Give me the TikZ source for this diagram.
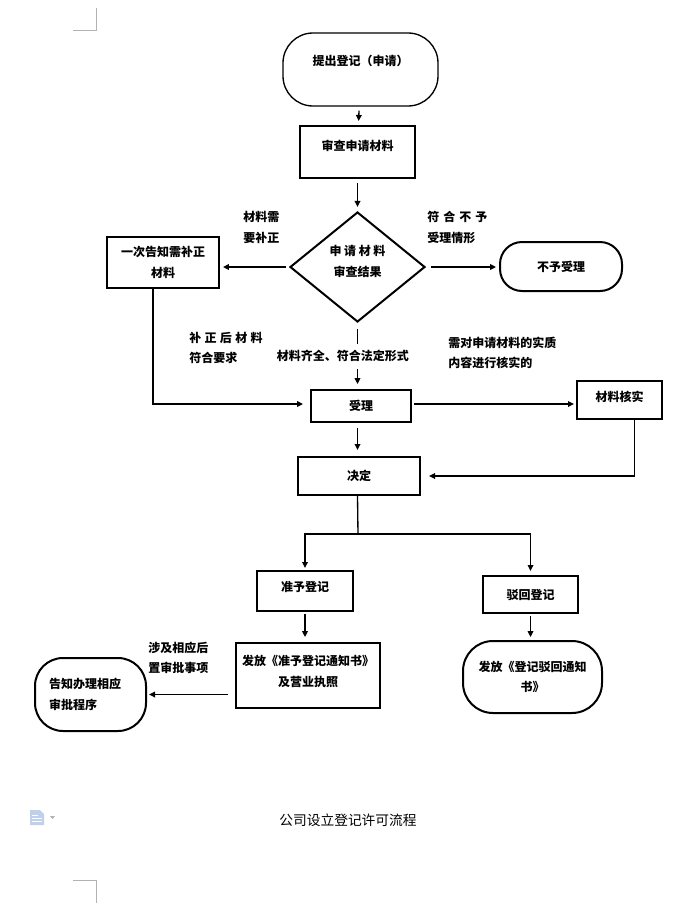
\documentclass[tikz,border=0pt]{standalone}
\usepackage{fontspec}
\setmainfont{Noto Sans CJK SC}
\usetikzlibrary{arrows.meta,shapes.geometric}
\newdimen\px \px=0.75pt
\definecolor{docblue}{RGB}{190,208,235}
\begin{document}
\begin{tikzpicture}[x=0.75pt,y=-0.75pt,
 every node/.style={font=\fontsize{9}{15.5}\selectfont\bfseries, align=center},
 box/.style={draw, line width=1.5pt, inner sep=0pt},
 term/.style={draw, line width=1.5pt, inner sep=0pt},
 arr/.style={line width=1pt, -{Triangle[length=4.5pt,width=4.2pt]}},
 ln/.style={line width=1pt},
 lbl/.style={align=left, inner sep=0pt},
 corner/.style={draw=gray!60, line width=0.75pt}]
\useasboundingbox (0,0) rectangle (683,921);

% page corner marks
\draw[corner] (73,30) -- (96,30) -- (96,8);
\draw[corner] (73,880) -- (96,880) -- (96,903);

% document icon
\fill[docblue] (30,810) -- (40,810) -- (44,814) -- (44,825) -- (30,825) -- cycle;
\draw[white, line width=0.6pt] (32,815) -- (38,815) (32,818) -- (42,818) (32,821) -- (42,821);
\fill[gray!60] (50,816) -- (55,816) -- (52.5,819) -- cycle;

% nodes
\node[term, line width=1pt, rounded corners=30\px, minimum width=155\px, minimum height=73\px, text depth=18\px] (start) at (360.5,69.5) {提出登记（申请）};
\node[box, minimum width=115\px, minimum height=52\px, text depth=14\px] (review) at (357.5,152) {审查申请材料};
\node[draw, diamond, line width=1.5pt, minimum width=135\px, minimum height=110\px, inner sep=0pt, text depth=12\px] (dec) at (357.5,267) {申\hspace{2pt}请\hspace{2pt}材\hspace{2pt}料\\审查结果};
\node[box, minimum width=112\px, minimum height=51\px] (notify) at (163,262.5) {一次告知需补正\\材料};
\node[term, rounded corners=22\px, minimum width=122\px, minimum height=49\px] (reject0) at (561,266.5) {不予受理};
\node[box, minimum width=100\px, minimum height=32\px] (accept) at (361,406) {受理};
\node[box, minimum width=85\px, minimum height=38\px, text depth=8\px] (verify) at (619.5,400) {材料核实};
\node[box, minimum width=122\px, minimum height=38\px] (decide) at (359,476) {决定};
\node[box, minimum width=96\px, minimum height=40\px, text depth=10\px] (grant) at (305,591) {准予登记};
\node[box, minimum width=95\px, minimum height=37\px] (deny) at (530.5,594.5) {驳回登记};
\node[box, minimum width=144\px, minimum height=65\px, text depth=10\px] (issue) at (308,675.5) {发放《准予登记通知书》\\及营业执照};
\node[term, rounded corners=30\px, minimum width=139\px, minimum height=72\px] (issueNo) at (532.5,677) {发放《登记驳回通知\\书》};
\node[term, rounded corners=28\px, minimum width=111\px, minimum height=73\px, align=left] (inform) at (90.5,694.5) {\hspace*{-8pt}告知办理相应\\\hspace*{-8pt}审批程序};

% edge labels
\node[lbl, anchor=west] (l1) at (243,227.5) {材料需\\要补正};
\node[lbl, anchor=west] (l2) at (427,227.5) {符\hspace{3pt}合\hspace{3pt}不\hspace{3pt}予\\受理情形};
\node[lbl, anchor=west] (l3) at (189,348) {补\hspace{2.5pt}正\hspace{2.5pt}后\hspace{2.5pt}材\hspace{2.5pt}料\\符合要求};
\node[lbl, anchor=west] (l4) at (448,353) {需对申请材料的实质\\内容进行核实的};
\node[lbl, anchor=west] (l5) at (148,658) {涉及相应后\\置审批事项};

% connectors
\draw[arr, shorten <=3pt, shorten >=3pt] (start) -- (review);
\draw[arr, shorten <=3pt, shorten >=3pt] (review) -- (dec);
\draw[arr, shorten <=2.2pt, shorten >=2.2pt] (dec.west) -- (dec.west -| notify.east);
\draw[arr, shorten <=3.7pt, shorten >=2.2pt] (dec.east) -- (dec.east -| reject0.west);
\draw[arr, shorten <=4.5pt, shorten >=3.7pt] (dec.south) -- node[pos=0.5, fill=white, inner xsep=0pt, inner ysep=5pt, xshift=-11pt] (l6) {材料齐全、符合法定形式} (dec.south |- accept.north);
\draw[arr, shorten >=5.2pt] ([xshift=-7.5pt]notify.south) |- ([yshift=1.5pt]accept.west);
\draw[arr, shorten <=1.5pt, shorten >=1.5pt] ([yshift=1.5pt]accept.east) -- ([yshift=1.5pt]accept.east -| verify.west);
\draw[arr, shorten <=3.7pt, shorten >=4.5pt] (dec.south |- accept.south) -- (dec.south |- decide.north);
\draw[arr, shorten >=6pt] ([xshift=11pt]verify.south) |- (decide.east);
\coordinate (split) at (358,534);
\draw[ln] (dec.south |- decide.south) -- (split);
\draw[arr, shorten >=1.5pt] (split) -| (grant.north);
\draw[arr, shorten >=3pt] (split) -| (deny.north);
\draw[arr, shorten <=1.5pt, shorten >=3.7pt] (grant.south) -- (grant.south |- issue.north);
\draw[arr, shorten <=1.5pt, shorten >=2.2pt] (deny.south) -- (deny.south |- issueNo.north);
\draw[arr, shorten <=5.2pt, shorten >=1.5pt] (issue.west |- inform.east) -- (inform.east);

% caption
\node[font=\fontsize{10.3}{12}\selectfont] (caption) at (348,820) {公司设立登记许可流程};
\end{tikzpicture}
\end{document}
